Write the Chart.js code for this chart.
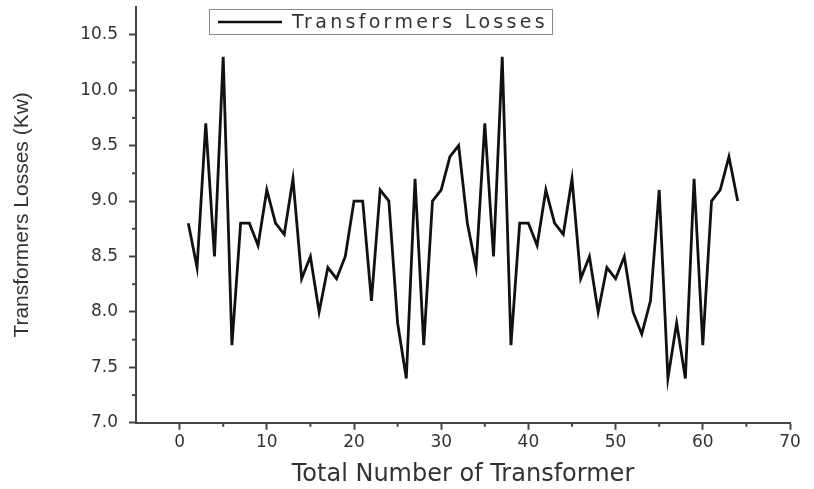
<!DOCTYPE html>
<html>
<head>
<meta charset="utf-8">
<script src="https://cdn.jsdelivr.net/npm/chart.js@4.4.1/dist/chart.umd.min.js"></script>
<style>
  html, body { margin: 0; padding: 0; background: #fff; }
  #wrap { width: 814px; height: 489px; }
</style>
</head>
<body>
<div id="wrap"><canvas id="lossChart" width="814" height="489"></canvas></div>
<script>
// --- data ---
const seriesName = 'Transformers Losses';
const xTitle = 'Total Number of Transformer';
const yTitle = 'Transformers Losses (Kw)';

const transformerNo = [
    1, 2, 3, 4, 5, 6, 7, 8, 9, 10, 11, 12, 13, 14, 15, 16,
    17, 18, 19, 20, 21, 22, 23, 24, 25, 26, 27, 28, 29, 30, 31, 32,
    33, 34, 35, 36, 37, 38, 39, 40, 41, 42, 43, 44, 45, 46, 47, 48,
    49, 50, 51, 52, 53, 54, 55, 56, 57, 58, 59, 60, 61, 62, 63, 64
];
const lossesKw = [
    8.8, 8.4, 9.7, 8.5, 10.3, 7.7, 8.8, 8.8, 8.6, 9.1, 8.8, 8.7, 9.2, 8.3, 8.5, 8.0,
    8.4, 8.3, 8.5, 9.0, 9.0, 8.1, 9.1, 9.0, 7.9, 7.4, 9.2, 7.7, 9.0, 9.1, 9.4, 9.5,
    8.8, 8.4, 9.7, 8.5, 10.3, 7.7, 8.8, 8.8, 8.6, 9.1, 8.8, 8.7, 9.2, 8.3, 8.5, 8.0,
    8.4, 8.3, 8.5, 8.0, 7.8, 8.1, 9.1, 7.4, 7.9, 7.4, 9.2, 7.7, 9.0, 9.1, 9.4, 9.0
];

const xTickValues = [0, 10, 20, 30, 40, 50, 60, 70];
const yTickValues = [7.0, 7.5, 8.0, 8.5, 9.0, 9.5, 10.0, 10.5];

const axisColor = '#444';
const textColor = '#333';
const isMajor = (list, v) => list.some(t => Math.abs(t - v) < 1e-6);

// small minor ticks, like the original plot
const minorTicks = {
    id: 'minorTicks',
    afterDraw(chart) {
        const { ctx, chartArea, scales } = chart;
        ctx.save();
        ctx.strokeStyle = axisColor;
        ctx.lineWidth = 2;
        for (let v = 5; v < 70; v += 10) {
            const px = scales.x.getPixelForValue(v);
            ctx.beginPath();
            ctx.moveTo(px, chartArea.bottom);
            ctx.lineTo(px, chartArea.bottom + 4);
            ctx.stroke();
        }
        for (let v = 7.25; v < 10.5; v += 0.5) {
            const py = scales.y.getPixelForValue(v);
            ctx.beginPath();
            ctx.moveTo(chartArea.left, py);
            ctx.lineTo(chartArea.left - 4, py);
            ctx.stroke();
        }
        ctx.restore();
    }
};

// legend box sitting inside the plot, top left
const legendBox = {
    id: 'legendBox',
    afterDraw(chart) {
        const { ctx, chartArea } = chart;
        const ds = chart.data.datasets[0];
        const x0 = chartArea.left + 73, y0 = chartArea.top + 2;
        const w = 343, h = 25;
        ctx.save();
        ctx.strokeStyle = '#8a8a8a';
        ctx.lineWidth = 1;
        ctx.strokeRect(x0 + 0.5, y0 + 0.5, w, h);
        ctx.strokeStyle = ds.borderColor;
        ctx.lineWidth = 2.5;
        ctx.beginPath();
        ctx.moveTo(x0 + 9, y0 + 13);
        ctx.lineTo(x0 + 73, y0 + 13);
        ctx.stroke();
        ctx.fillStyle = textColor;
        ctx.font = "19px 'DejaVu Sans'";
        ctx.letterSpacing = '3.3px';
        ctx.textBaseline = 'middle';
        ctx.fillText(ds.label, x0 + 83, y0 + 14);
        ctx.restore();
    }
};

const ctxLoss = document.getElementById('lossChart').getContext('2d');
const lossChart = new Chart(ctxLoss, {
    type: 'line',
    data: {
        datasets: [{
            label: seriesName,
            data: transformerNo.map((n, i) => ({ x: n, y: lossesKw[i] })),
            borderColor: '#111',
            borderWidth: 2.8,
            pointRadius: 0,
            tension: 0,
            fill: false
        }]
    },
    options: {
        responsive: false,
        animation: false,
        layout: { padding: { top: 7, right: 24, left: 4, bottom: 0 } },
        plugins: {
            legend: { display: false },
            tooltip: { enabled: false }
        },
        scales: {
            x: {
                type: 'linear',
                min: -5,
                max: 70,
                border: { display: true, color: axisColor, width: 2 },
                grid: {
                    drawOnChartArea: false,
                    tickLength: 7,
                    tickWidth: 2,
                    tickColor: c => isMajor(xTickValues, c.tick.value) ? axisColor : 'rgba(0,0,0,0)'
                },
                ticks: {
                    stepSize: 5,
                    autoSkip: false,
                    maxRotation: 0,
                    padding: 3,
                    color: textColor,
                    font: { family: 'DejaVu Sans', size: 17 },
                    callback: v => isMajor(xTickValues, v) ? String(v) : ''
                },
                title: {
                    display: true,
                    text: xTitle,
                    color: textColor,
                    font: { family: 'DejaVu Sans', size: 24 },
                    padding: { top: 4, bottom: 0 }
                }
            },
            y: {
                min: 7,
                max: 10.75,
                border: { display: true, color: axisColor, width: 2 },
                grid: {
                    drawOnChartArea: false,
                    tickLength: 7,
                    tickWidth: 2,
                    tickColor: c => isMajor(yTickValues, c.tick.value) ? axisColor : 'rgba(0,0,0,0)'
                },
                ticks: {
                    stepSize: 0.25,
                    autoSkip: false,
                    padding: 11,
                    color: textColor,
                    font: { family: 'DejaVu Sans', size: 17 },
                    callback: v => isMajor(yTickValues, v) ? v.toFixed(1) : ''
                },
                title: {
                    display: true,
                    text: yTitle,
                    color: textColor,
                    font: { family: 'Liberation Sans', size: 21 },
                    padding: { top: 6, bottom: 0 }
                },
                afterFit: s => {
                    s.width = 132;
                    s.paddingTop = 0;
                }
            }
        }
    },
    plugins: [minorTicks, legendBox]
});
</script>
</body>
</html>
